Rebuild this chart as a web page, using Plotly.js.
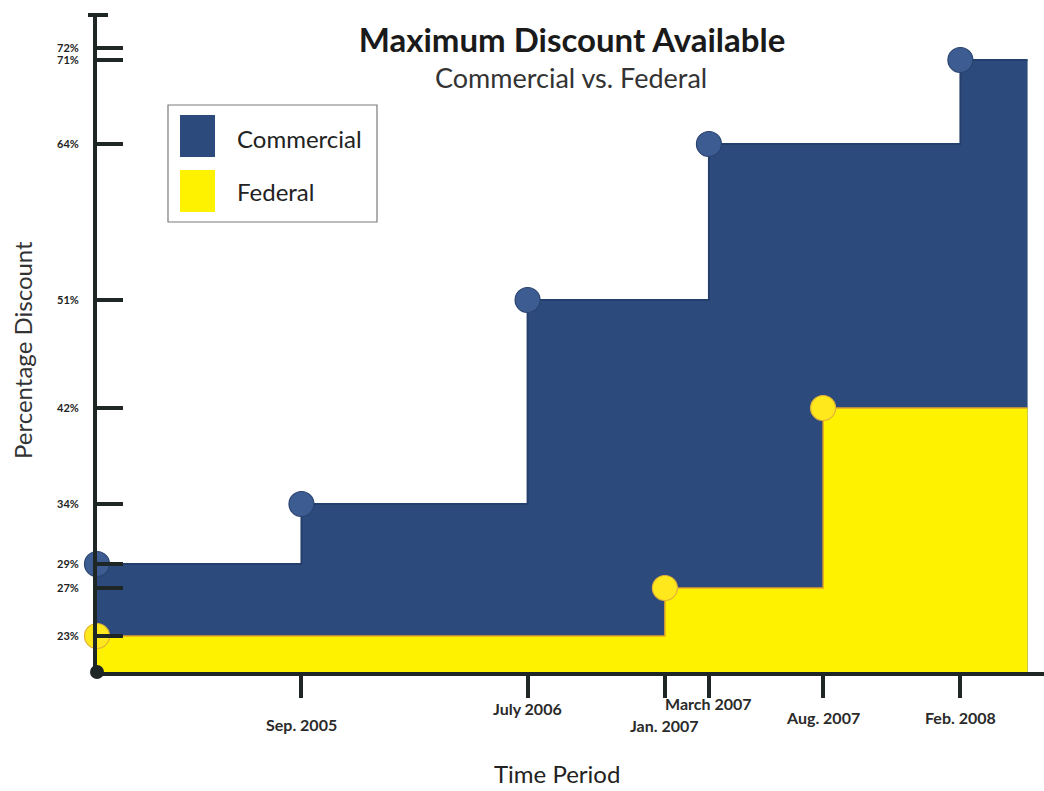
<!DOCTYPE html>
<html>
<head>
<meta charset="utf-8">
<script src="https://cdn.plot.ly/plotly-3.0.1.min.js"></script>
<style>html,body{margin:0;padding:0;background:#fff;}#chart{width:1044px;height:791px;}</style>
</head>
<body>
<div id="chart"></div>
<script>
// ---- data ----
const seriesNames = ['Commercial', 'Federal'];
const commercialDates = ['2004-12-01', '2005-09-01', '2006-07-01', '2007-03-01', '2008-02-01'];
const commercialValues = [29, 34, 51, 64, 71];
const federalDates = ['2004-12-01', '2007-01-01', '2007-08-01'];
const federalValues = [23, 27, 42];
const seriesEnd = '2008-05-01';
const xTickDates = ['2005-09-01', '2006-07-01', '2007-01-01', '2007-03-01', '2007-08-01', '2008-02-01'];
const xTickLabels = ['Sep. 2005', 'July 2006', 'Jan. 2007', 'March 2007', 'Aug. 2007', 'Feb. 2008'];
const yTickValues = [23, 27, 29, 34, 42, 51, 64, 71, 72];
const yTickLabels = yTickValues.map(v => v + '%');

// ---- style ----
const colors = { Commercial: '#2c4a7b', Federal: '#fff200' };
const lineColors = { Commercial: '#243f6c', Federal: '#e2a62a' };
const markerColors = { Commercial: '#3d5c92', Federal: '#ffe81c' };
const labelDrop = [52, 36, 53, 31, 45, 45];
const FONT = 'Lato, "Open Sans", sans-serif';

const M = { l: 97, r: 0, t: 15, b: 119 };
const W = 1044, H = 791;
const pw = W - M.l - M.r, ph = H - M.t - M.b;
const px2x = p => (p - M.l) / pw;
const px2y = p => (H - M.b - p) / ph;

function stepTrace(name, dates, values) {
  return {
    type: 'scatter', mode: 'lines', name: name,
    x: dates.concat([seriesEnd]),
    y: values.concat([values[values.length - 1]]),
    line: { shape: 'hv', color: lineColors[name], width: name === 'Commercial' ? 2 : 1.5 },
    fill: 'tozeroy', fillcolor: colors[name],
    hoverinfo: 'skip', showlegend: false
  };
}
function dotTrace(name, dates, values) {
  return {
    type: 'scatter', mode: 'markers', name: name,
    x: dates, y: values,
    marker: { size: 25, color: markerColors[name],
      line: { color: name === 'Commercial' ? '#2a4470' : '#e3b236', width: 1.2 } },
    cliponaxis: false, showlegend: false
  };
}

const data = [
  stepTrace('Commercial', commercialDates, commercialValues),
  stepTrace('Federal', federalDates, federalValues),
  dotTrace('Commercial', commercialDates, commercialValues),
  dotTrace('Federal', federalDates, federalValues)
];

const annotations = xTickDates.map((d, i) => ({
  x: d, xref: 'x', y: 0, yref: 'paper', yshift: -labelDrop[i],
  text: xTickLabels[i], showarrow: false, xanchor: 'center', yanchor: 'middle',
  font: { family: FONT, size: 16, color: '#2a2a2a', weight: 'bold' }
}));

// subtitle and axis titles as free text
annotations.push({ xref: 'paper', yref: 'paper', x: px2x(571), y: px2y(77), text: 'Commercial vs. Federal',
  showarrow: false, xanchor: 'center', yanchor: 'middle', font: { family: FONT, size: 27, color: '#333' } });
annotations.push({ xref: 'paper', yref: 'paper', x: px2x(557), y: px2y(774), text: 'Time Period',
  showarrow: false, xanchor: 'center', yanchor: 'middle', font: { family: FONT, size: 24, color: '#222' } });
annotations.push({ xref: 'paper', yref: 'paper', x: px2x(22), y: px2y(350), text: 'Percentage Discount', textangle: -90,
  showarrow: false, xanchor: 'center', yanchor: 'middle', font: { family: FONT, size: 24, color: '#333' } });

// legend (drawn by hand with big swatches)
const legendBox = { x0: 168, x1: 377, y0: 105, y1: 222 };
const swatches = [[115, 157], [170, 212]];
const legendTextY = [138, 191];
const shapes = [
  { type: 'rect', xref: 'paper', yref: 'paper', x0: px2x(legendBox.x0), x1: px2x(legendBox.x1),
    y0: px2y(legendBox.y0), y1: px2y(legendBox.y1), line: { color: '#7a7a7a', width: 1.2 }, fillcolor: '#ffffff' }
];
seriesNames.forEach((n, i) => {
  shapes.push({ type: 'rect', xref: 'paper', yref: 'paper', x0: px2x(180), x1: px2x(215),
    y0: px2y(swatches[i][0]), y1: px2y(swatches[i][1]), line: { width: 0 }, fillcolor: colors[n] });
  annotations.push({ xref: 'paper', yref: 'paper', x: px2x(235), y: px2y(legendTextY[i]),
    text: n, showarrow: false, xanchor: 'left', yanchor: 'middle',
    font: { family: FONT, size: 24, color: '#222' } });
});
// origin dot and top cap of y axis
shapes.push({ type: 'circle', xref: 'paper', yref: 'paper', xsizemode: 'pixel', ysizemode: 'pixel',
  xanchor: 0, yanchor: 0, x0: -7, x1: 7, y0: -7, y1: 7, fillcolor: '#1e2626', line: { width: 0 }, layer: 'above' });
shapes.push({ type: 'line', xref: 'paper', yref: 'paper', x0: px2x(88), x1: px2x(108), y0: 1, y1: 1,
  line: { color: '#1e2626', width: 4 }, layer: 'above' });

const layout = {
  width: W, height: H, margin: M,
  paper_bgcolor: '#ffffff', plot_bgcolor: '#ffffff',
  font: { family: FONT, color: '#222' },
  title: {
    text: 'Maximum Discount Available',
    font: { family: FONT, size: 33, color: '#1a1a1a', weight: 'bold' },
    x: 572 / W, xanchor: 'center', xref: 'container',
    y: 1 - 40 / H, yanchor: 'middle', yref: 'container'
  },
  xaxis: {
    type: 'date', range: ['2004-12-01', '2008-05-23'],
    tickvals: xTickDates, ticktext: xTickDates.map(() => ''),
    ticks: 'outside', ticklen: 22, tickwidth: 4, tickcolor: '#1e2626',
    showline: true, linewidth: 4, linecolor: '#1e2626',
    showgrid: false, zeroline: false, fixedrange: true,
    automargin: false
  },
  yaxis: {
    range: [20, 74.75],
    tickvals: yTickValues, ticktext: yTickLabels,
    ticks: 'inside', ticklen: 26, tickwidth: 4, tickcolor: '#1e2626',
    ticklabelstandoff: 12,
    tickfont: { family: FONT, size: 11, color: '#222', weight: 'bold' },
    showline: true, linewidth: 4, linecolor: '#1e2626',
    showgrid: false, zeroline: false, fixedrange: true,
    automargin: false
  },
  annotations: annotations,
  shapes: shapes,
  showlegend: false
};

Plotly.newPlot('chart', data, layout, { staticPlot: true, displayModeBar: false });
</script>
</body>
</html>
